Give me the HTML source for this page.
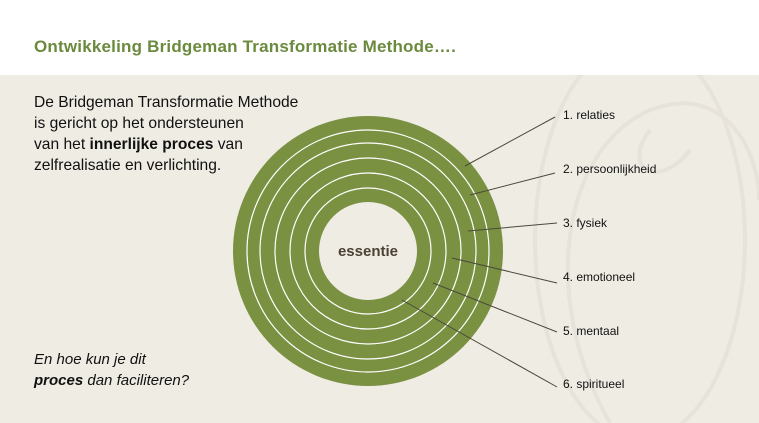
<!DOCTYPE html>
<html><head><meta charset="utf-8"><style>
html,body{margin:0;padding:0}
body{width:759px;height:423px;position:relative;overflow:hidden;background:#efece4;font-family:"Liberation Sans",sans-serif}
.hdr{position:absolute;left:0;top:0;width:759px;height:75px;background:#fff;z-index:1}
.title{position:absolute;left:34px;top:37px;font-size:17px;font-weight:bold;color:#6b8a3d;letter-spacing:0.2px;z-index:2}
.txt{position:absolute;left:34px;top:92px;font-size:15.6px;line-height:21px;color:#111;z-index:2}
.q{position:absolute;left:34px;top:349px;font-size:15px;line-height:21px;color:#111;font-style:italic;z-index:2}
svg{position:absolute;left:0;top:0}
</style></head><body>
<div class="hdr"></div>
<div class="title">Ontwikkeling Bridgeman Transformatie Methode….</div>
<svg width="759" height="423">
<g fill="none" stroke="#e7e3da" stroke-width="4">
<ellipse cx="640" cy="240" rx="105" ry="200"/>
<path d="M610 423 C540 300 560 150 650 110 C730 80 760 160 759 200"/>
<path d="M650 130 C620 170 660 190 690 150"/>
</g>
<circle cx="368" cy="251" r="135" fill="#7a9142"/>
<g fill="none" stroke="#fff" stroke-width="1.2">
<circle cx="368" cy="251" r="121"/>
<circle cx="368" cy="251" r="108"/>
<circle cx="368" cy="251" r="93"/>
<circle cx="368" cy="251" r="78"/>
<circle cx="368" cy="251" r="63"/>
</g>
<circle cx="368" cy="251" r="49" fill="#efece4"/>
<text x="368" y="256" text-anchor="middle" font-family="Liberation Sans,sans-serif" font-weight="bold" font-size="15" fill="#4a4033">essentie</text>
<g stroke="#4a4a3a" stroke-width="1">
<line x1="465" y1="166" x2="555" y2="117"/>
<line x1="470" y1="195" x2="555" y2="173"/>
<line x1="468" y1="231" x2="557" y2="223"/>
<line x1="452" y1="258" x2="557" y2="283"/>
<line x1="433" y1="283" x2="557" y2="332"/>
<line x1="402" y1="300" x2="557" y2="387"/>
</g>
<g font-family="Liberation Sans,sans-serif" font-size="12" fill="#111">
<text x="563" y="119">1. relaties</text>
<text x="563" y="173">2. persoonlijkheid</text>
<text x="563" y="227">3. fysiek</text>
<text x="563" y="281">4. emotioneel</text>
<text x="563" y="335">5. mentaal</text>
<text x="563" y="388">6. spiritueel</text>
</g>
</svg>
<div class="txt">De Bridgeman Transformatie Methode<br>is gericht op het ondersteunen<br>van het <b>innerlijke proces</b> van<br>zelfrealisatie en verlichting.</div>
<div class="q">En hoe kun je dit<br><b>proces</b> dan faciliteren?</div>
</body></html>
